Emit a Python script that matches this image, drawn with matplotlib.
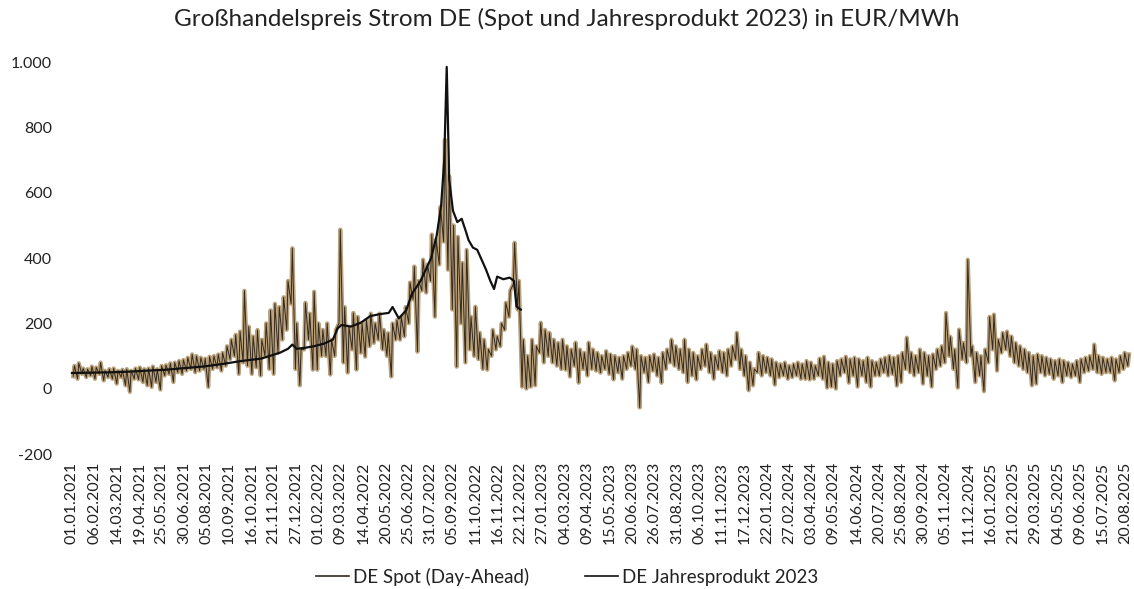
import pandas as pd
import matplotlib
matplotlib.use('Agg')
import matplotlib.pyplot as plt
from matplotlib.lines import Line2D

plt.rcParams['font.family'] = ['Lato', 'DejaVu Sans']

# Spot (Day-Ahead) in EUR/MWh, je Woche (ab Fr 01.01.2021): Wochenend-Tief und Wochenspitze
spot_lo_2021 = [38, 30, 45, 35, 40, 30, 45, 25, 35, 30, 15, 35, 10, -10, 30, 28, 20,
                10, 5, 20, -3, 40, 45, 20, 50, 45, 55, 60, 50, 55, 60, 5, 60, 65, 55,
                70, 90, 100, 45, 80, 70, 45, 65, 40, 100, 60, 45, 110, 150, 180, 260, 60, 10]
spot_hi_2021 = [70, 78, 62, 60, 68, 65, 80, 55, 60, 62, 55, 58, 60, 55, 62, 65, 60,
                62, 68, 60, 70, 72, 78, 80, 85, 88, 95, 105, 100, 95, 92, 98, 100, 105, 110,
                130, 150, 165, 175, 300, 190, 160, 180, 150, 200, 240, 260, 250, 280, 330, 430, 200, 120]
spot_lo_2022 = [120, 150, 58, 58, 100, 100, 43, 100, 200, 80, 49, 120, 58, 110, 98, 130,
                140, 150, 120, 100, 37, 150, 150, 160, 200, 273, 113, 300, 294, 330, 220, 380,
                450, 364, 242, 67, 200, 80, 120, 100, 90, 60, 58, 100, 120, 130, 180, 220,
                320, 242, 6, 0]
spot_hi_2022 = [263, 230, 297, 200, 180, 200, 150, 180, 487, 250, 190, 232, 220, 200, 210, 230,
                200, 230, 180, 170, 200, 210, 220, 250, 325, 374, 330, 395, 380, 472, 456, 557,
                762, 650, 500, 465, 385, 425, 220, 251, 171, 150, 120, 180, 160, 200, 263, 300,
                447, 330, 150, 100]
spot_lo_2023 = [6, 10, 110, 80, 100, 80, 70, 60, 58, 37, 70, 18, 60, 40, 60, 55, 49, 60, 45, 28,
                50, 30, 60, 70, 60, -58, 50, 20, 55, 40, 18, 60, 80, 70, 60, 50, 20, 40, 28, 60,
                70, 50, 30, 60, 50, 40, 70, 90, 60, 40, -5, 10]
spot_hi_2023 = [150, 130, 202, 180, 171, 150, 140, 150, 130, 120, 141, 120, 110, 141, 120, 110,
                100, 115, 105, 100, 95, 100, 110, 129, 120, 100, 95, 100, 105, 95, 110, 120, 150,
                130, 120, 150, 120, 110, 100, 120, 135, 110, 100, 115, 110, 120, 130, 171, 120,
                100, 80, 60]
spot_lo_2024 = [50, 40, 50, 40, 12, 35, 40, 30, 35, 40, 30, 30, 28, 30, 40, 30, 3, 6, 0, 40,
                50, 18, 40, 6, 40, 20, 6, 40, 40, 50, 40, 45, 9, 20, 60, 50, 40, 50, 15, 40,
                6, 60, 70, 80, 100, 60, 3, 90, 80, 100, 20, 40]
spot_hi_2024 = [110, 100, 95, 90, 80, 75, 80, 70, 75, 80, 75, 85, 80, 70, 92, 98, 80, 75, 85, 90,
                98, 90, 95, 90, 85, 95, 85, 80, 90, 95, 100, 95, 100, 110, 156, 110, 100, 120, 110,
                100, 105, 120, 130, 232, 159, 120, 181, 140, 395, 130, 110, 100]
spot_lo_2025 = [-8, 80, 120, 55, 110, 120, 100, 80, 70, 60, 50, 10, 15, 50, 40, 45, 30, 40, 20,
                40, 35, 40, 20, 50, 55, 60, 50, 45, 50, 50, 25, 50, 60, 70]
spot_hi_2025 = [120, 220, 227, 150, 171, 175, 160, 140, 130, 120, 110, 100, 105, 100, 95, 90, 85,
                90, 85, 80, 75, 85, 90, 95, 100, 135, 100, 95, 90, 95, 90, 100, 110, 105]

# Jahresprodukt 2023 (Base), EUR/MWh
jp_dates = ['2021-01-01', '2021-02-01', '2021-03-01', '2021-04-01', '2021-05-01', '2021-06-01',
            '2021-07-01', '2021-08-01', '2021-09-01', '2021-10-01', '2021-11-01', '2021-12-01',
            '2021-12-14', '2021-12-21', '2021-12-28', '2022-01-10', '2022-01-25', '2022-02-10',
            '2022-02-24', '2022-03-04', '2022-03-10', '2022-03-25', '2022-04-10', '2022-04-25',
            '2022-05-10', '2022-05-25', '2022-05-31', '2022-06-10', '2022-06-22', '2022-07-01',
            '2022-07-15', '2022-08-01', '2022-08-10', '2022-08-17', '2022-08-22', '2022-08-26',
            '2022-08-30', '2022-09-05', '2022-09-12', '2022-09-19', '2022-09-26', '2022-09-30',
            '2022-10-07', '2022-10-14', '2022-10-21', '2022-10-28', '2022-11-04', '2022-11-10',
            '2022-11-15', '2022-11-25', '2022-12-05', '2022-12-12', '2022-12-16', '2022-12-23']
jp_values = [48, 49, 50, 52, 55, 58,
             63, 68, 76, 85, 92, 110,
             122, 135, 122, 125, 130, 138,
             150, 185, 195, 190, 202, 222,
             228, 232, 250, 215, 240, 290,
             330, 400, 470, 560, 700, 985,
             640, 545, 510, 520, 480, 455,
             432, 425, 395, 365, 330, 305,
             343, 335, 340, 330, 252, 242]

yticks = [-200, 0, 200, 400, 600, 800, 1000]
ytick_labels = ['-200', '0', '200', '400', '600', '800', '1.000']
xtick_dates = pd.date_range('2021-01-01', '2025-08-31', freq='36D')

title = 'Großhandelspreis Strom DE (Spot und Jahresprodukt 2023) in EUR/MWh'
label_spot = 'DE Spot (Day-Ahead)'
label_jp = 'DE Jahresprodukt 2023'

# Wochenwerte auf Tage legen: Tief am Sonntag, Spitze am Dienstag
spot_lo = spot_lo_2021 + spot_lo_2022 + spot_lo_2023 + spot_lo_2024 + spot_lo_2025
spot_hi = spot_hi_2021 + spot_hi_2022 + spot_hi_2023 + spot_hi_2024 + spot_hi_2025
weeks = pd.date_range('2021-01-01', periods=len(spot_hi), freq='7D')
spot_x = []
spot_y = []
for w, lo, hi in zip(weeks, spot_lo, spot_hi):
    spot_x += [w + pd.Timedelta(days=2), w + pd.Timedelta(days=4)]
    spot_y += [lo, hi]

W, H = 1134, 589
fig = plt.figure(figsize=(W / 100, H / 100), dpi=100)
ax = fig.add_axes([62 / W, (H - 454) / H, (W - 62) / W, (454 - 62) / H])

spot_dark = '#35291d'
ax.plot(spot_x, spot_y, color='#b9a27c', lw=3.0)
ax.plot(spot_x, spot_y, color=spot_dark, lw=0.7)
ax.plot(pd.to_datetime(jp_dates), jp_values, color='#111111', lw=1.6)

ax.set_xlim(pd.Timestamp('2020-12-16'), pd.Timestamp('2025-09-03'))
ax.set_ylim(-200, 1000)
ax.set_yticks(yticks)
ax.set_yticklabels(ytick_labels, fontsize=11.5, color='#222222')
ax.set_xticks(xtick_dates)
ax.set_xticklabels([d.strftime('%d.%m.%Y') for d in xtick_dates], rotation=90,
                   fontsize=11.5, color='#222222')
ax.tick_params(axis='both', length=0)
ax.tick_params(axis='y', pad=7)
ax.tick_params(axis='x', pad=5.5)
for s in ax.spines.values():
    s.set_visible(False)

fig.text(0.5, 1 - 19 / H, title, ha='center', va='center', fontsize=17.5, color='#222222')

handles = [Line2D([], [], color=spot_dark, lw=1.2), Line2D([], [], color='#111111', lw=1.2)]
fig.legend(handles, [label_spot, label_jp], loc='center', bbox_to_anchor=(0.5, 1 - 577 / H),
           ncol=2, frameon=False, fontsize=13.5, handlelength=1.76, handletextpad=0.2,
           columnspacing=3.0, labelcolor='#222222')

fig.savefig('out.png', dpi=100)
